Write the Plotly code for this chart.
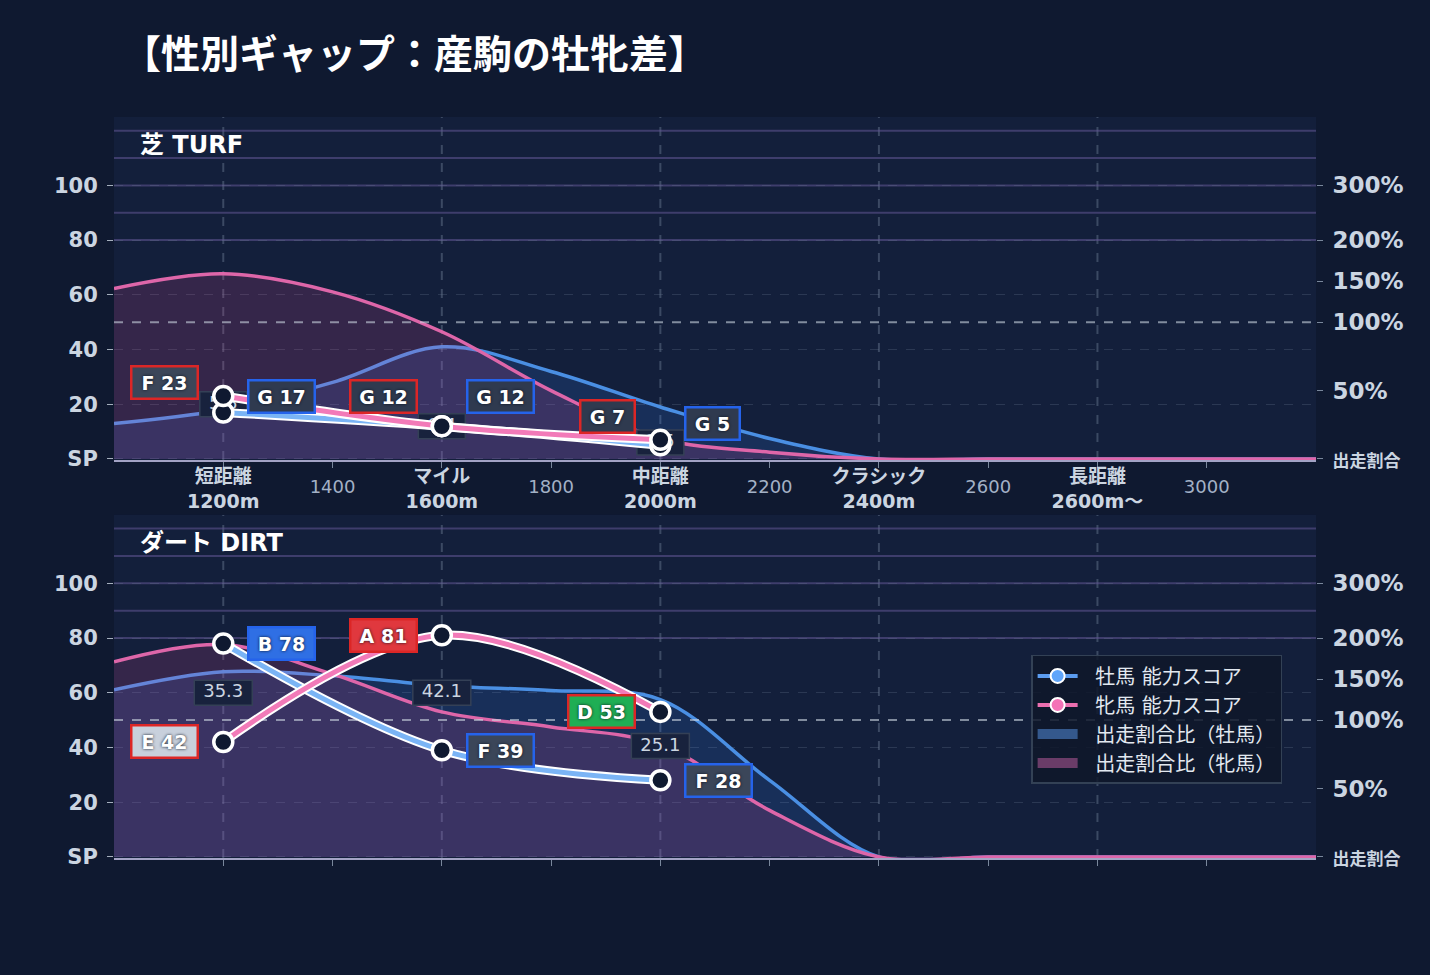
import numpy as np
import plotly.graph_objects as go

# ---------------------------------------------------------------- data
# smooth "出走割合比" curves, sampled every 200 m (percent of average share)
grid_dist = [1000, 1200, 1400, 1600, 1800, 2000, 2200, 2400, 2600, 2800, 3000, 3200]
turf_ratio_male = [26, 36, 56, 82, 64, 38, 15, 0, 0, 0, 0, 0]
turf_ratio_female = [141, 159, 137, 93, 50, 15, 5, 0, 0, 0, 0, 0]
dirt_ratio_male = [137, 159, 154, 142, 136, 125, 56, 0, 0, 0, 0, 0]
dirt_ratio_female = [171, 192, 156, 110, 95, 82, 34, 0, 0, 0, 0, 0]

# ability scores by distance category
score_dist = [1200, 1600, 2000]
turf_score_male = [17, 12, 5]
turf_grade_male = ["G", "G", "G"]
turf_score_female = [23, 12, 7]
turf_grade_female = ["F", "G", "G"]
turf_gap = [5.8, 0.4, 2.5]

dirt_score_male = [78, 39, 28]
dirt_grade_male = ["B", "F", "F"]
dirt_score_female = [42, 81, 53]
dirt_grade_female = ["E", "A", "D"]
dirt_gap = [35.3, 42.1, 25.1]

# axis labels
score_tickvals = [0, 20, 40, 60, 80, 100]
score_ticktext = ["SP", "20", "40", "60", "80", "100"]
ratio_tick_pct = [0, 50, 100, 150, 200, 300]
ratio_tick_pos = [0, 25, 50, 65, 80, 100]   # compressed ratio scale
ratio_ticktext = ["<span style='font-size:17px'>出走割合</span>", "50%", "100%", "150%", "200%", "300%"]
cat_dist = [1200, 1600, 2000, 2400, 2800]
cat_names = ["短距離", "マイル", "中距離", "クラシック", "長距離"]
cat_sub = ["1200m", "1600m", "2000m", "2400m", "2600m〜"]
minor_dist = [1400, 1800, 2200, 2600, 3000]
band_lines = [80, 90, 100, 110, 120]

# ---------------------------------------------------------------- style
PAPER = "#0f1930"
PLOT_BG = "#131f3b"
FONT = "DejaVu Sans, Noto Sans CJK JP, sans-serif"
TICK_COL = "#cbd5e1"
MALE_AREA = "#4a8fe3"
FEMALE_AREA = "#de66a9"
MALE_SCORE = "#7ab4f5"
FEMALE_SCORE = "#f27ab8"
MALE_BORDER = "#2563eb"
FEMALE_BORDER = "#dc2626"
GRADE_FILL = {"A": "#e0383e", "B": "#2f6fe4", "C": "#e59a1c", "D": "#1fae54",
              "E": "#c8d0dc", "F": "#3b4659", "G": "#2f3a4f"}
X_RANGE = [1000, 3200]
Y_RANGE = [-0.4, 125]
PLOT_W, PLOT_H = 1202, 343
M_PER_PX = (X_RANGE[1] - X_RANGE[0]) / PLOT_W
UNIT_PER_PX = (Y_RANGE[1] - Y_RANGE[0]) / PLOT_H

# label lifts (px) used on the crowded turf panel
turf_lift_female = [14, 30, 23]
turf_lift_male = [16, 30, 22]


def ratio_to_axis(pct):
    return np.interp(pct, ratio_tick_pct, ratio_tick_pos)


panels = [
    dict(title="芝 TURF", xa="x", ya="y", yr="y3",
         rm=turf_ratio_male, rf=turf_ratio_female,
         sm=turf_score_male, gm=turf_grade_male, sf=turf_score_female, gf=turf_grade_female,
         gap=turf_gap, lm=turf_lift_male, lf=turf_lift_female),
    dict(title="ダート DIRT", xa="x2", ya="y2", yr="y4",
         rm=dirt_ratio_male, rf=dirt_ratio_female,
         sm=dirt_score_male, gm=dirt_grade_male, sf=dirt_score_female, gf=dirt_grade_female,
         gap=dirt_gap, lm=[0, 0, 0], lf=[0, 0, 0]),
]

fig = go.Figure()
annotations = []
shapes = []

for p in panels:
    xa, ya = p["xa"], p["ya"]
    # ratio areas
    fig.add_trace(go.Scatter(
        x=grid_dist, y=ratio_to_axis(p["rm"]), xaxis=xa, yaxis=ya,
        mode="lines", line=dict(color=MALE_AREA, width=3.5, shape="spline"),
        fill="tozeroy", fillcolor="rgba(59,130,246,0.16)",
        showlegend=False, hoverinfo="skip"))
    fig.add_trace(go.Scatter(
        x=grid_dist, y=ratio_to_axis(p["rf"]), xaxis=xa, yaxis=ya,
        mode="lines", line=dict(color=FEMALE_AREA, width=3.5, shape="spline"),
        fill="tozeroy", fillcolor="rgba(236,72,153,0.16)",
        showlegend=False, hoverinfo="skip"))
    # 100% reference
    ref = float(ratio_to_axis(100))
    fig.add_trace(go.Scatter(
        x=X_RANGE, y=[ref, ref], xaxis=xa, yaxis=ya, mode="lines",
        line=dict(color="rgba(203,213,225,0.6)", width=2, dash="dash"),
        showlegend=False, hoverinfo="skip"))

    # gap labels (boxes sit under the markers)
    mid = [(a + b) / 2 for a, b in zip(p["sm"], p["sf"])]
    gap_txt = [f"{g:.1f}" for g in p["gap"]]
    bx, by = [], []
    for x, y, t in zip(score_dist, mid, gap_txt):
        hw = (len(t) * 11 + 14) / 2 * M_PER_PX
        hh = 12.5 * UNIT_PER_PX
        bx += [x - hw, x + hw, x + hw, x - hw, x - hw, None]
        by += [y - hh, y - hh, y + hh, y + hh, y - hh, None]
    fig.add_trace(go.Scatter(
        x=bx, y=by, xaxis=xa, yaxis=ya, mode="lines", fill="toself",
        fillcolor="#18223d", line=dict(color="#344056", width=1.5),
        showlegend=False, hoverinfo="skip"))
    fig.add_trace(go.Scatter(
        x=score_dist, y=mid, xaxis=xa, yaxis=ya, mode="text", text=gap_txt,
        textfont=dict(family=FONT, size=18, color=TICK_COL),
        showlegend=False, hoverinfo="skip"))

    # score lines with white casing
    for s, col in ((p["sm"], MALE_SCORE), (p["sf"], FEMALE_SCORE)):
        fig.add_trace(go.Scatter(
            x=score_dist, y=s, xaxis=xa, yaxis=ya, mode="lines",
            line=dict(color="white", width=9, shape="spline"),
            showlegend=False, hoverinfo="skip"))
        fig.add_trace(go.Scatter(
            x=score_dist, y=s, xaxis=xa, yaxis=ya, mode="lines",
            line=dict(color=col, width=5, shape="spline"),
            showlegend=False, hoverinfo="skip"))
    fig.add_trace(go.Scatter(
        x=score_dist * 2, y=p["sm"] + p["sf"], xaxis=xa, yaxis=ya, mode="markers",
        marker=dict(size=19, color=PAPER, line=dict(color="white", width=3.5)),
        showlegend=False, hoverinfo="skip"))

    # placeholder so the right-hand ratio axis is drawn
    fig.add_trace(go.Scatter(x=[None], y=[None], xaxis=xa, yaxis=p["yr"],
                             showlegend=False, hoverinfo="skip"))

    # grade / score labels
    for i, x in enumerate(score_dist):
        for s, g, lift, border, side in (
            (p["sf"][i], p["gf"][i], p["lf"][i], FEMALE_BORDER, "right"),
            (p["sm"][i], p["gm"][i], p["lm"][i], MALE_BORDER, "left"),
        ):
            txt = f"{g} {s}"
            annotations.append(dict(
                x=x, y=s, xref=xa, yref=ya, text=f"<b>{txt}</b>", showarrow=False,
                xanchor=side, yanchor="middle", xshift=-24 if side == "right" else 24,
                yshift=lift, bgcolor=GRADE_FILL[g], bordercolor=border,
                borderwidth=2.5, borderpad=4, width=len(txt) * 12 + 8,
                font=dict(family=FONT, size=19, color="white", shadow="0px 0px 3px #0b1220"),
            ))

    # panel title
    annotations.append(dict(
        x=0.02, y=0.918, xref=f"{xa} domain", yref=f"{ya} domain",
        text=f"<b>{p['title']}</b>", showarrow=False, xanchor="left", yanchor="middle",
        font=dict(family=FONT, size=24, color="white")))

    # category gridlines and score bands
    for d in cat_dist:
        shapes.append(dict(type="line", xref=xa, yref=f"{ya} domain", x0=d, x1=d, y0=0, y1=1,
                           line=dict(color="rgba(100,116,139,0.5)", width=2, dash="dash"),
                           layer="below"))
    for b in band_lines:
        shapes.append(dict(type="line", xref=f"{xa} domain", yref=ya, x0=0, x1=1, y0=b, y1=b,
                           line=dict(color="rgba(98,86,150,0.55)", width=2), layer="below"))

# legend entries
SP = "&nbsp;&nbsp;"
fig.add_trace(go.Scatter(x=[None], y=[None], xaxis="x2", yaxis="y2", mode="lines+markers",
                         name=SP + "牡馬 能力スコア", line=dict(color="#5b9cf0", width=4),
                         marker=dict(size=14, color="#60a5fa", line=dict(color="white", width=2))))
fig.add_trace(go.Scatter(x=[None], y=[None], xaxis="x2", yaxis="y2", mode="lines+markers",
                         name=SP + "牝馬 能力スコア", line=dict(color="#ec6fb0", width=4),
                         marker=dict(size=14, color="#f472b6", line=dict(color="white", width=2))))
fig.add_trace(go.Scatter(x=[None], y=[None], xaxis="x2", yaxis="y2", mode="lines",
                         name=SP + "出走割合比（牡馬）", line=dict(color="rgba(52,88,140,1)", width=15)))
fig.add_trace(go.Scatter(x=[None], y=[None], xaxis="x2", yaxis="y2", mode="lines",
                         name=SP + "出走割合比（牝馬）", line=dict(color="rgba(106,60,104,1)", width=15)))
# minor distance labels on the turf axis
fig.add_trace(go.Scatter(x=[None], y=[None], xaxis="x3", yaxis="y",
                         showlegend=False, hoverinfo="skip"))

cat_ticktext = [f"<b>{n}</b><br><b>{s}</b>" for n, s in zip(cat_names, cat_sub)]
all_ticks = sorted(cat_dist + minor_dist)

xbase = dict(range=X_RANGE, tickvals=all_ticks, showgrid=False, zeroline=False,
             showline=True, linecolor="rgba(200,198,235,0.8)", linewidth=2,
             ticks="outside", ticklen=6, tickcolor="rgba(148,163,184,0.8)",
             ticklabelstandoff=-8, tickfont=dict(family=FONT, size=19, color=TICK_COL))
ybase = dict(range=Y_RANGE, tickvals=score_tickvals, ticktext=[f"<b>{t}</b>" for t in score_ticktext],
             showgrid=True, gridcolor="rgba(100,116,139,0.3)", griddash="dash", gridwidth=1,
             zeroline=False, ticks="outside", ticklen=6, tickcolor="rgba(203,213,225,0.8)",
             ticklabelstandoff=5, tickfont=dict(family=FONT, size=21, color=TICK_COL))
yright = dict(range=Y_RANGE, tickvals=ratio_tick_pos, ticktext=[f"<b>{t}</b>" for t in ratio_ticktext],
              side="right", showgrid=False, zeroline=False, ticks="outside", ticklen=6,
              tickcolor="rgba(148,163,184,0.8)", ticklabelstandoff=5,
              tickfont=dict(family=FONT, size=23, color=TICK_COL))

fig.update_layout(
    width=1430, height=975,
    paper_bgcolor=PAPER, plot_bgcolor=PLOT_BG,
    margin=dict(l=114, r=114, t=117, b=117),
    title=dict(text="<b>【性別ギャップ：産駒の牡牝差】</b>", x=0.0, xref="paper", xanchor="left",
               y=0.944, yref="container", yanchor="middle",
               font=dict(family="Noto Sans CJK JP", size=39, color="white"), pad=dict(l=8)),
    xaxis=dict(xbase, anchor="y", ticktext=[cat_ticktext[cat_dist.index(v)] if v in cat_dist else ""
                                           for v in all_ticks]),
    xaxis2=dict(xbase, anchor="y2", showticklabels=False),
    xaxis3=dict(range=X_RANGE, overlaying="x", anchor="y", side="bottom", tickvals=minor_dist,
                ticktext=[str(v) for v in minor_dist], showgrid=False, zeroline=False,
                showline=False, ticks="", ticklabelstandoff=14,
                tickfont=dict(family=FONT, size=18, color="#a3b1c6")),
    yaxis=dict(ybase, domain=[0.537, 1.0], anchor="x"),
    yaxis2=dict(ybase, domain=[0.0, 0.463], anchor="x2"),
    yaxis3=dict(yright, overlaying="y", anchor="x"),
    yaxis4=dict(yright, overlaying="y2", anchor="x2"),
    legend=dict(x=0.763, y=0.274, xanchor="left", yanchor="top",
                bgcolor="rgba(15,23,42,0.85)", bordercolor="#334155", borderwidth=1.5,
                font=dict(family=FONT, size=20, color="#e2e8f0"), itemwidth=40,
                tracegroupgap=0),
    annotations=annotations,
    shapes=shapes,
    hovermode=False,
)

fig.write_html("out.html", config={"displayModeBar": False},
               post_script="document.body.style.margin='0px';")
